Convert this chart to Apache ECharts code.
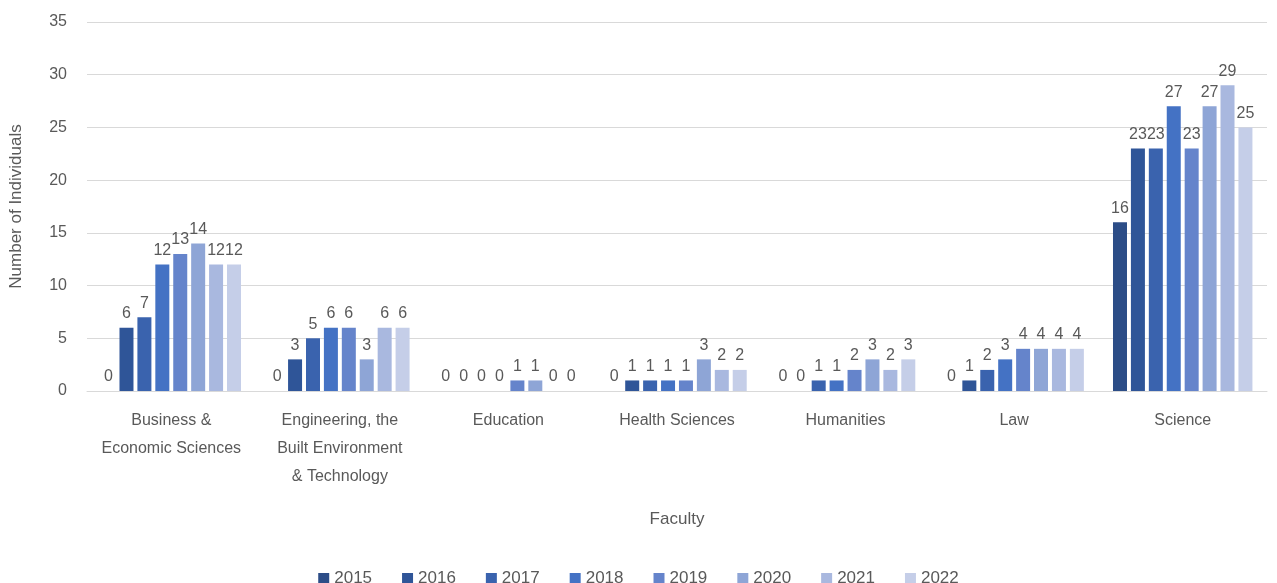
<!DOCTYPE html>
<html>
<head>
<meta charset="utf-8">
<title>Number of Individuals by Faculty</title>
<script src="https://cdn.jsdelivr.net/npm/echarts@6/dist/echarts.min.js"></script>
<style>
  html, body { margin: 0; padding: 0; background: #fff; }
  #chart { width: 1277px; height: 583px; }
</style>
</head>
<body>
<div id="chart"></div>
<script>
  // categories (x axis)
  var faculties = [
    "Business &\nEconomic Sciences",
    "Engineering, the\nBuilt Environment\n& Technology",
    "Education",
    "Health Sciences",
    "Humanities",
    "Law",
    "Science"
  ];
  var years = ["2015", "2016", "2017", "2018", "2019", "2020", "2021", "2022"];

  // one array per year, in faculty order
  var y2015 = [0, 0, 0, 0, 0, 0, 16];
  var y2016 = [6, 3, 0, 1, 0, 1, 23];
  var y2017 = [7, 5, 0, 1, 1, 2, 23];
  var y2018 = [12, 6, 0, 1, 1, 3, 27];
  var y2019 = [13, 6, 1, 1, 2, 4, 23];
  var y2020 = [14, 3, 1, 3, 3, 4, 27];
  var y2021 = [12, 6, 0, 2, 2, 4, 29];
  var y2022 = [12, 6, 0, 2, 3, 4, 25];
  var values = [y2015, y2016, y2017, y2018, y2019, y2020, y2021, y2022];

  var colors = ["#2c4d87", "#2f5598", "#3a63ae", "#4472c4", "#6584cb", "#8ea5d6", "#a9b8df", "#c5cee8"];
  var textColor = "#595959";
  var font = "Liberation Sans";

  var chart = echarts.init(document.getElementById("chart"));

  var series = years.map(function (y, i) {
    return {
      name: y,
      type: "bar",
      data: values[i],
      barWidth: 14,
      barGap: "28%",
      itemStyle: { color: colors[i] },
      label: {
        show: true,
        position: "top",
        distance: 6,
        color: textColor,
        fontSize: 16,
        fontFamily: font
      }
    };
  });

  chart.setOption({
    animation: false,
    color: colors,
    grid: {
      left: 82,
      right: 10,
      top: 22,
      bottom: 192
    },
    legend: {
      data: years,
      top: 565,
      left: "center",
      itemWidth: 11,
      itemHeight: 11,
      itemGap: 30,
      icon: "rect",
      textStyle: { color: textColor, fontSize: 17, fontFamily: font }
    },
    xAxis: {
      type: "category",
      data: faculties,
      name: "Faculty",
      nameLocation: "middle",
      nameGap: 120,
      nameTextStyle: { color: textColor, fontSize: 17, fontFamily: font },
      axisTick: { show: false },
      axisLine: { lineStyle: { color: "#d9d9d9", width: 1 } },
      axisLabel: {
        interval: 0,
        margin: 16,
        color: textColor,
        fontSize: 16,
        fontFamily: font,
        lineHeight: 28
      }
    },
    yAxis: {
      type: "value",
      min: 0,
      max: 35,
      interval: 5,
      name: "Number of Individuals",
      nameLocation: "middle",
      nameGap: 62,
      nameTextStyle: { color: textColor, fontSize: 17, fontFamily: font },
      axisLine: { show: false },
      axisTick: { show: false },
      splitLine: { lineStyle: { color: "#d9d9d9", width: 1 } },
      axisLabel: { margin: 20, color: textColor, fontSize: 16, fontFamily: font }
    },
    series: series
  });
</script>
</body>
</html>
